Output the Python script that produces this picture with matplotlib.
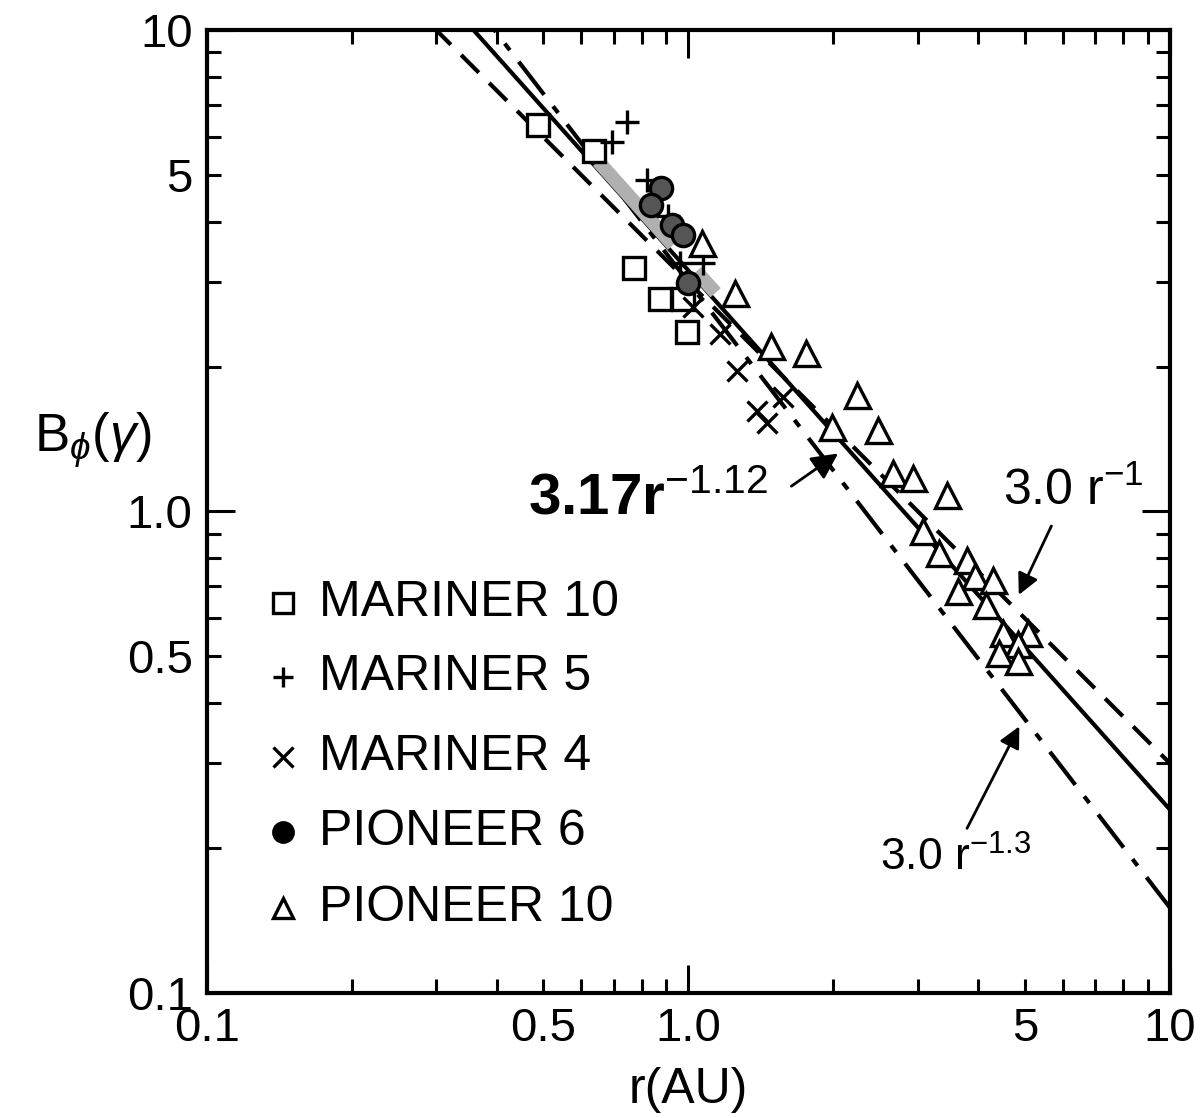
import numpy as np
import matplotlib
matplotlib.use("Agg")
import matplotlib.pyplot as plt
from matplotlib.ticker import LogLocator, FixedLocator, FuncFormatter

# Mariner 10 (squares)
m10_r = [0.488, 0.638, 0.772, 0.875, 0.976, 0.995]
m10_b = [6.35, 5.60, 3.20, 2.76, 2.76, 2.36]
# Mariner 5 (plus)
m5_r = [0.746, 0.695, 0.822, 0.909, 0.962, 1.075]
m5_b = [6.44, 5.85, 4.88, 4.12, 3.29, 3.29]
# Mariner 4 (x)
m4_r = [1.024, 1.166, 1.264, 1.575, 1.392, 1.46]
m4_b = [2.66, 2.34, 1.96, 1.726, 1.62, 1.53]
# Pioneer 6 (filled circles)
p6_r = [0.879, 0.838, 0.926, 0.976, 1.0]
p6_b = [4.69, 4.33, 3.93, 3.75, 2.98]
# Pioneer 10 (triangles)
p10_r = [1.069, 1.252, 1.488, 1.759, 2.246, 1.993, 2.483, 2.668, 2.936, 3.455,
         3.08, 3.31, 3.80, 3.95, 4.29, 3.64, 4.15, 4.50, 5.07, 4.83, 4.41, 4.83]
p10_b = [3.62, 2.85, 2.21, 2.13, 1.743, 1.495, 1.474, 1.205, 1.171, 1.080,
         0.913, 0.818, 0.791, 0.736, 0.719, 0.685, 0.638, 0.560, 0.560, 0.531, 0.507, 0.490]

# shaded bands along the fit
band_r = [(0.65, 0.93), (1.04, 1.14)]

# fits  B = a * r^k
fit_a = [3.0, 3.17, 3.0]
fit_k = [-1.0, -1.12, -1.3]

plt.rcParams['font.family'] = ['Liberation Sans', 'DejaVu Sans']
plt.rcParams['mathtext.fontset'] = 'custom'
plt.rcParams['mathtext.rm'] = 'Liberation Sans'
plt.rcParams['mathtext.it'] = 'Liberation Sans:italic'
plt.rcParams['mathtext.bf'] = 'Liberation Sans:bold'

fig = plt.figure(figsize=(12.01, 11.18), dpi=100)
ax = fig.add_axes([0.172, 0.112, 0.802, 0.861])
ax.set_xscale("log")
ax.set_yscale("log")
ax.set_xlim(0.1, 10)
ax.set_ylim(0.1, 10)

r = np.logspace(-1, 1, 200)
ax.plot(r, fit_a[0] * r ** fit_k[0], color="black", lw=3, dashes=(6, 3.5))
ax.plot(r, fit_a[1] * r ** fit_k[1], color="black", lw=3)
ax.plot(r, fit_a[2] * r ** fit_k[2], color="black", lw=3, dashes=(10, 3.5, 2, 3.5))

for r0, r1 in band_r:
    rr = np.linspace(r0, r1, 20)
    ax.plot(rr, 1.04 * fit_a[1] * rr ** fit_k[1], color="#b0b0b0", lw=10,
            solid_capstyle="butt", zorder=3)

mk = dict(color="black", linestyle="none", markeredgewidth=2.4, zorder=4)
ax.plot(m10_r, m10_b, marker="s", markersize=16, markerfacecolor="white", **mk)
ax.plot(m5_r, m5_b, marker="+", markersize=17, **mk)
ax.plot(m4_r, m4_b, marker="x", markersize=14, **mk)
ax.plot(p6_r, p6_b, marker="o", markersize=16, markerfacecolor="#555555", **mk)
ax.plot(p10_r, p10_b, marker="^", markersize=18, markerfacecolor="white", **mk)

# legend drawn by hand
leg_labels = ["MARINER 10", "MARINER 5", "MARINER 4", "PIONEER 6", "PIONEER 10"]
leg_markers = ["s", "+", "x", "o", "^"]
leg_y = [0.405, 0.328, 0.245, 0.167, 0.088]
for lab, m, y in zip(leg_labels, leg_markers, leg_y):
    ax.plot([0.079], [y], transform=ax.transAxes, marker=m, markersize=14,
            color="black", markerfacecolor="white" if m in "s^" else "black",
            markeredgewidth=2.4, linestyle="none", clip_on=False)
    ax.text(0.117, y, lab, transform=ax.transAxes, fontsize=36, va="center")

# annotations
ax.annotate("", xy=(2.07, 1.33), xytext=(1.62, 1.12),
            arrowprops=dict(arrowstyle="-|>", color="black", lw=2, mutation_scale=40))
ax.text(0.465, 1.06, r"$\mathbf{3.17r}^{\mathrm{-1.12}}$", fontsize=42, va="center", ha="left")
ax.annotate("", xy=(4.83, 0.663), xytext=(5.71, 0.944),
            arrowprops=dict(arrowstyle="-|>", color="black", lw=2, mutation_scale=32))
ax.text(4.5, 1.1, r"3.0 r$^{\mathrm{-1}}$", fontsize=36, va="center")
ax.annotate("", xy=(4.90, 0.362), xytext=(3.77, 0.217),
            arrowprops=dict(arrowstyle="-|>", color="black", lw=2, mutation_scale=32))
ax.text(2.5, 0.19, r"3.0 r$^{\mathrm{-1.3}}$", fontsize=32, va="center")

# ticks
ax.xaxis.set_major_locator(FixedLocator([0.1, 1, 10]))
ax.yaxis.set_major_locator(FixedLocator([0.1, 1, 10]))
ax.xaxis.set_minor_locator(LogLocator(subs=np.arange(2, 10)))
ax.yaxis.set_minor_locator(LogLocator(subs=np.arange(2, 10)))

maj = {0.1: "0.1", 1: "1.0", 10: "10"}
mino = {0.5: "0.5", 5: "5"}


def fmt_major(v, pos):
    for k, s in maj.items():
        if abs(v - k) < 1e-6 * k:
            return s
    return ""


def fmt_minor(v, pos):
    for k, s in mino.items():
        if abs(v - k) < 1e-6 * k:
            return s
    return ""


for axis in (ax.xaxis, ax.yaxis):
    axis.set_major_formatter(FuncFormatter(fmt_major))
    axis.set_minor_formatter(FuncFormatter(fmt_minor))

ax.tick_params(which="both", direction="in", top=True, right=True, labelsize=34, width=2.2)
ax.tick_params(which="major", length=20, pad=10)
ax.tick_params(which="minor", length=10, pad=10)
for s in ax.spines.values():
    s.set_linewidth(3)

ax.set_xlabel("r(AU)", fontsize=36, labelpad=12)
fig.text(0.077, 0.606, r"B$_\phi$($\gamma$)", fontsize=38, ha="center", va="center")

fig.savefig("out.png", dpi=100)
